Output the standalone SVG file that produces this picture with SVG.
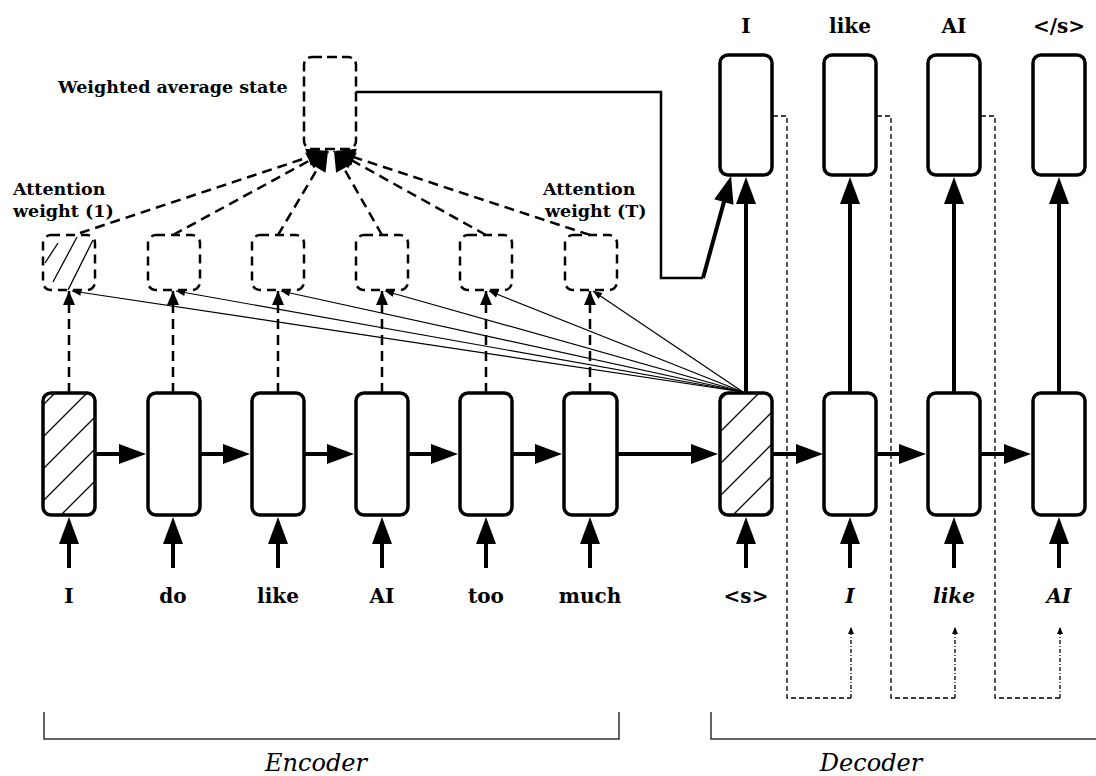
<svg xmlns="http://www.w3.org/2000/svg" width="1096" height="776" viewBox="0 0 1096 776">
<defs>
<style>
.box{fill:#fff;stroke:#000;stroke-width:3.5}
.hbox{fill:url(#hp);stroke:#000;stroke-width:3.5}
.dbox{fill:#fff;stroke:#000;stroke-width:2.5;stroke-dasharray:9 6}
.dboxn{fill:none;stroke:#000;stroke-width:2.5;stroke-dasharray:9 6}
.wbox{fill:#fff;stroke:#000;stroke-width:2.5;stroke-dasharray:10 5}
.lbl{font-family:"DejaVu Serif","Liberation Serif",serif;font-weight:bold;font-size:20px;text-anchor:middle;fill:#000}
.it{font-style:italic}
.note{font-family:"DejaVu Serif","Liberation Serif",serif;font-weight:bold;font-size:17.5px;fill:#000}
.sec{font-family:"DejaVu Serif","Liberation Serif",serif;font-style:italic;font-size:24px;text-anchor:middle;fill:#000}
.thick{fill:none;stroke:#000;stroke-width:4}
.mid{fill:none;stroke:#000;stroke-width:2.5}
.dash{fill:none;stroke:#000;stroke-width:2.5;stroke-dasharray:10 6}
.thin{fill:none;stroke:#000;stroke-width:1.2}
.fb{fill:none;stroke:#000;stroke-width:1.3;stroke-dasharray:5 3}
.fb2{fill:none;stroke:#000;stroke-width:1.3;stroke-dasharray:4 2 1 2}
.bracket{fill:none;stroke:#333;stroke-width:1.5}
.hatch{fill:none;stroke:#000;stroke-width:1.3}
</style>
<pattern id="hp" patternUnits="userSpaceOnUse" width="32" height="32">
<rect width="32" height="32" fill="#fff"/>
<path d="M0,32 L32,0 M-8,8 L8,-8 M24,40 L40,24" stroke="#000" stroke-width="1.3"/>
</pattern>
<clipPath id="c1"><rect x="43" y="235" width="52" height="55" rx="8"/></clipPath>
<marker id="big" markerUnits="userSpaceOnUse" markerWidth="28" markerHeight="22" refX="17" refY="10" orient="auto" overflow="visible"><path d="M0,0 L27,10 L0,20 z" fill="#000"/></marker>
<marker id="med" markerUnits="userSpaceOnUse" markerWidth="22" markerHeight="20" refX="20" refY="9" orient="auto" overflow="visible"><path d="M0,0 L20,9 L0,18 z" fill="#000"/></marker>
<marker id="dv" markerUnits="userSpaceOnUse" markerWidth="15" markerHeight="13" refX="14" refY="6" orient="auto" overflow="visible"><path d="M0,0 L14,6 L0,12 z" fill="#000"/></marker>
<marker id="tiny" markerUnits="userSpaceOnUse" markerWidth="10" markerHeight="8" refX="9" refY="3.5" orient="auto" overflow="visible"><path d="M0,0 L9,3.5 L0,7 z" fill="#000"/></marker>
<marker id="fbm" markerUnits="userSpaceOnUse" markerWidth="8" markerHeight="7" refX="7" refY="3" orient="auto" overflow="visible"><path d="M0,0 L7,3 L0,6 z" fill="#000"/></marker>
</defs>
<rect width="1096" height="776" fill="#fff"/>

<g id="connectors">
  <!-- encoder inputs -->
  <line class="thick" x1="69" y1="568" x2="69" y2="527" marker-end="url(#big)"/>
  <line class="thick" x1="173" y1="568" x2="173" y2="527" marker-end="url(#big)"/>
  <line class="thick" x1="278" y1="568" x2="278" y2="527" marker-end="url(#big)"/>
  <line class="thick" x1="382" y1="568" x2="382" y2="527" marker-end="url(#big)"/>
  <line class="thick" x1="486" y1="568" x2="486" y2="527" marker-end="url(#big)"/>
  <line class="thick" x1="590" y1="568" x2="590" y2="527" marker-end="url(#big)"/>
  <!-- decoder inputs -->
  <line class="thick" x1="746" y1="568" x2="746" y2="527" marker-end="url(#big)"/>
  <line class="thick" x1="850" y1="568" x2="850" y2="527" marker-end="url(#big)"/>
  <line class="thick" x1="954" y1="568" x2="954" y2="527" marker-end="url(#big)"/>
  <line class="thick" x1="1059" y1="568" x2="1059" y2="527" marker-end="url(#big)"/>
  <!-- recurrent arrows -->
  <line class="thick" x1="96" y1="454" x2="136" y2="454" marker-end="url(#big)"/>
  <line class="thick" x1="200" y1="454" x2="240" y2="454" marker-end="url(#big)"/>
  <line class="thick" x1="304" y1="454" x2="344" y2="454" marker-end="url(#big)"/>
  <line class="thick" x1="408" y1="454" x2="448" y2="454" marker-end="url(#big)"/>
  <line class="thick" x1="512" y1="454" x2="552" y2="454" marker-end="url(#big)"/>
  <line class="thick" x1="617" y1="454" x2="708" y2="454" marker-end="url(#big)"/>
  <line class="thick" x1="773" y1="454" x2="813" y2="454" marker-end="url(#big)"/>
  <line class="thick" x1="876" y1="454" x2="916" y2="454" marker-end="url(#big)"/>
  <line class="thick" x1="981" y1="454" x2="1021" y2="454" marker-end="url(#big)"/>
  <!-- decoder outputs -->
  <line class="thick" x1="746" y1="393" x2="746" y2="187" marker-end="url(#big)"/>
  <line class="thick" x1="850" y1="393" x2="850" y2="187" marker-end="url(#big)"/>
  <line class="thick" x1="954" y1="393" x2="954" y2="187" marker-end="url(#big)"/>
  <line class="thick" x1="1059" y1="393" x2="1059" y2="187" marker-end="url(#big)"/>
  <!-- context vector path -->
  <path class="mid" d="M356,92 H661 V278 H703"/>
  <line class="thick" x1="703" y1="278" x2="728.4" y2="185.6" marker-end="url(#big)"/>
  <!-- encoder states to attention weights -->
  <line class="dash" x1="69" y1="393" x2="69" y2="291" marker-end="url(#dv)"/>
  <line class="dash" x1="173" y1="393" x2="173" y2="291" marker-end="url(#dv)"/>
  <line class="dash" x1="278" y1="393" x2="278" y2="291" marker-end="url(#dv)"/>
  <line class="dash" x1="382" y1="393" x2="382" y2="291" marker-end="url(#dv)"/>
  <line class="dash" x1="486" y1="393" x2="486" y2="291" marker-end="url(#dv)"/>
  <line class="dash" x1="590" y1="393" x2="590" y2="291" marker-end="url(#dv)"/>
  <!-- decoder state to attention weights -->
  <line class="thin" x1="743" y1="392" x2="72" y2="291" marker-end="url(#tiny)"/>
  <line class="thin" x1="743" y1="392" x2="176" y2="291" marker-end="url(#tiny)"/>
  <line class="thin" x1="743" y1="392" x2="281" y2="291" marker-end="url(#tiny)"/>
  <line class="thin" x1="743" y1="392" x2="385" y2="291" marker-end="url(#tiny)"/>
  <line class="thin" x1="743" y1="392" x2="489" y2="291" marker-end="url(#tiny)"/>
  <line class="thin" x1="743" y1="392" x2="593" y2="291" marker-end="url(#tiny)"/>
  <!-- attention weights to weighted average -->
  <line class="dash" x1="80" y1="233" x2="327" y2="151" marker-end="url(#med)"/>
  <line class="dash" x1="173" y1="235" x2="327" y2="151" marker-end="url(#med)"/>
  <line class="dash" x1="278" y1="235" x2="328" y2="151" marker-end="url(#med)"/>
  <line class="dash" x1="382" y1="235" x2="334" y2="151" marker-end="url(#med)"/>
  <line class="dash" x1="486" y1="235" x2="335" y2="151" marker-end="url(#med)"/>
  <line class="dash" x1="590" y1="235" x2="335" y2="151" marker-end="url(#med)"/>
  <!-- feedback of outputs to next inputs -->
  <path class="fb" d="M773,116 H787 V698 H851"/>
  <line class="fb2" x1="851" y1="698" x2="851" y2="627" marker-end="url(#fbm)"/>
  <path class="fb" d="M877,116 H891 V698 H955"/>
  <line class="fb2" x1="955" y1="698" x2="955" y2="627" marker-end="url(#fbm)"/>
  <path class="fb" d="M981,116 H995 V698 H1060"/>
  <line class="fb2" x1="1060" y1="698" x2="1060" y2="627" marker-end="url(#fbm)"/>
</g>

<g id="enc1"><rect class="hbox" x="43" y="393" width="52" height="122" rx="8"/><text class="lbl" x="69" y="603">I</text></g>
<g id="enc2"><rect class="box" x="148" y="393" width="52" height="122" rx="8"/><text class="lbl" x="173" y="603">do</text></g>
<g id="enc3"><rect class="box" x="252" y="393" width="52" height="122" rx="8"/><text class="lbl" x="278" y="603">like</text></g>
<g id="enc4"><rect class="box" x="356" y="393" width="52" height="122" rx="8"/><text class="lbl" x="382" y="603">AI</text></g>
<g id="enc5"><rect class="box" x="460" y="393" width="52" height="122" rx="8"/><text class="lbl" x="486" y="603">too</text></g>
<g id="enc6"><rect class="box" x="564" y="393" width="53" height="122" rx="8"/><text class="lbl" x="590" y="603">much</text></g>

<g id="dec1"><rect class="hbox" x="720" y="393" width="52" height="122" rx="8"/><text class="lbl" x="746" y="603">&lt;s&gt;</text></g>
<g id="dec2"><rect class="box" x="824" y="393" width="52" height="122" rx="8"/><text class="lbl it" x="850" y="603">I</text></g>
<g id="dec3"><rect class="box" x="928" y="393" width="52" height="122" rx="8"/><text class="lbl it" x="954" y="603">like</text></g>
<g id="dec4"><rect class="box" x="1033" y="393" width="52" height="122" rx="8"/><text class="lbl it" x="1059" y="603">AI</text></g>

<g id="out1"><rect class="box" x="720" y="55" width="52" height="120" rx="8"/><text class="lbl" x="746" y="33">I</text></g>
<g id="out2"><rect class="box" x="824" y="55" width="52" height="120" rx="8"/><text class="lbl" x="850" y="33">like</text></g>
<g id="out3"><rect class="box" x="928" y="55" width="52" height="120" rx="8"/><text class="lbl" x="954" y="33">AI</text></g>
<g id="out4"><rect class="box" x="1033" y="55" width="52" height="120" rx="8"/><text class="lbl" x="1059" y="33">&lt;/s&gt;</text></g>

<g id="att1">
  <rect x="43" y="235" width="52" height="55" rx="8" fill="#fff"/>
  <g clip-path="url(#c1)">
    <path class="hatch" d="M45,263 L58,243 M53,282 L77,237 M68,290 L93,240"/>
  </g>
  <rect class="dboxn" x="43" y="235" width="52" height="55" rx="8"/>
  <text class="note" x="13" y="195">Attention</text>
  <text class="note" x="13" y="217">weight (1)</text>
</g>
<g id="att2"><rect class="dbox" x="148" y="235" width="52" height="55" rx="8"/></g>
<g id="att3"><rect class="dbox" x="252" y="235" width="52" height="55" rx="8"/></g>
<g id="att4"><rect class="dbox" x="356" y="235" width="52" height="55" rx="8"/></g>
<g id="att5"><rect class="dbox" x="460" y="235" width="52" height="55" rx="8"/></g>
<g id="att6">
  <rect class="dbox" x="565" y="235" width="52" height="55" rx="8"/>
  <text class="note" x="543" y="195">Attention</text>
  <text class="note" x="545" y="217">weight (T)</text>
</g>

<g id="wavg">
  <rect class="wbox" x="304" y="57" width="52" height="92" rx="8"/>
  <text class="note" x="58" y="93">Weighted average state</text>
</g>

<g id="encoder-bracket">
  <path class="bracket" d="M44,712 V739 H619 V712"/>
  <text class="sec" x="316" y="771">Encoder</text>
</g>
<g id="decoder-bracket">
  <path class="bracket" d="M711,712 V739 H1096"/>
  <text class="sec" x="871" y="771">Decoder</text>
</g>
</svg>
